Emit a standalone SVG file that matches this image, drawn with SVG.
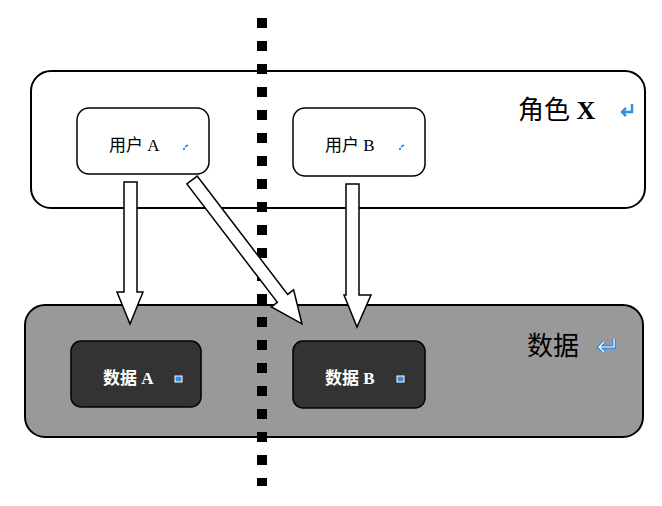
<svg xmlns="http://www.w3.org/2000/svg" width="662" height="506" viewBox="0 0 662 506">
<style>
.c{font-family:"Liberation Serif","Noto Sans CJK SC",serif}
.arr{fill:#fff;stroke:#000;stroke-width:1.5;stroke-linejoin:miter}
.ic{fill:#3b8de0}
</style>
<rect width="662" height="506" fill="#fff"/>
<g id="roleX">
<rect x="31" y="71" width="614" height="137" rx="20" fill="#fff" stroke="#000" stroke-width="2"/>
<text x="518" y="119" class="c" font-size="26">角色 <tspan font-weight="bold">X</tspan></text>
<path d="M632 104v8h-10M626 108l-4 4 4 4" fill="none" stroke="#3b8de0" stroke-width="2.5"/>
</g>
<g id="data">
<rect x="25" y="305" width="618" height="132" rx="20" fill="#999" stroke="#000" stroke-width="2"/>
<text x="527" y="355" class="c" font-size="26">数据</text>
<path d="M614 339v8h-15M604 342l-5 5 5 5" fill="none" stroke="#3b8de0" stroke-width="4"/>
<path d="M614 339v8h-15M604 342l-5 5 5 5" fill="none" stroke="#fff" stroke-width="1.2"/>
</g>
<g id="divider">
<line x1="262" y1="18" x2="262" y2="486" stroke="#000" stroke-width="10" stroke-dasharray="10 13"/>
</g>
<g id="userA">
<rect x="77" y="108" width="132" height="66" rx="12" fill="#fff" stroke="#000" stroke-width="1.5"/>
<text x="109" y="151" class="c" font-size="17">用户 A</text>
<path d="M185 147l3-2M183 149l2 0" class="ic" stroke="#3b8de0" stroke-width="2"/>
</g>
<g id="userB">
<rect x="293" y="108" width="132" height="68" rx="12" fill="#fff" stroke="#000" stroke-width="1.5"/>
<text x="325" y="151" class="c" font-size="17">用户 B</text>
<path d="M401 147l3-2M399 149l2 0" stroke="#3b8de0" stroke-width="2"/>
</g>
<g id="dataA">
<rect x="71" y="341" width="130" height="66" rx="10" fill="#333" stroke="#000" stroke-width="1.5"/>
<text x="103" y="384" class="c" font-size="17" font-weight="bold" fill="#fff">数据 A</text>
<rect x="175" y="376" width="7" height="6" fill="#3b8de0" stroke="#fff" stroke-width="1"/>
</g>
<g id="dataB">
<rect x="293" y="341" width="132" height="67" rx="10" fill="#333" stroke="#000" stroke-width="1.5"/>
<text x="325" y="384" class="c" font-size="17" font-weight="bold" fill="#fff">数据 B</text>
<rect x="397" y="376" width="7" height="6" fill="#3b8de0" stroke="#fff" stroke-width="1"/>
</g>
<g id="connectors">
<polygon class="arr" points="124,182 137,182 137,292 143,292 130,324 117,292 124,292"/>
<polygon class="arr" points="346,184 359,184 359,295 371,295 357,327 344,295 346,295"/>
<polygon class="arr" transform="translate(192,180) rotate(52.6)" points="0,-6.5 149,-6.5 149,-14 181,0 149,14 149,6.5 0,6.5"/>
</g>
</svg>
